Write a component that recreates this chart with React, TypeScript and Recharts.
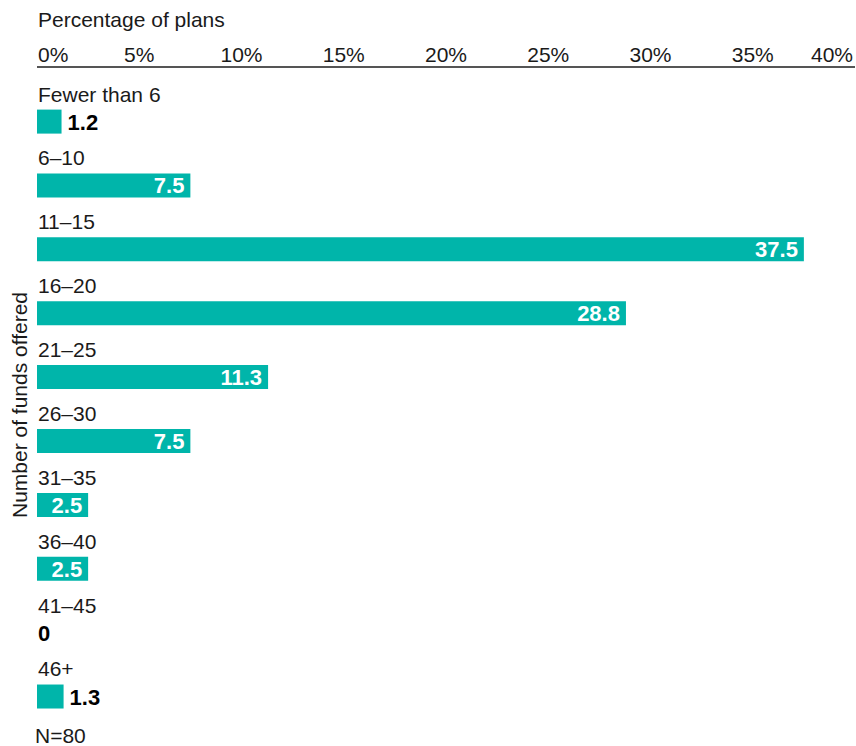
import React from "react";
import { Bar, BarChart, LabelList, XAxis, YAxis } from "recharts";

const categories = [
  "Fewer than 6",
  "6–10",
  "11–15",
  "16–20",
  "21–25",
  "26–30",
  "31–35",
  "36–40",
  "41–45",
  "46+",
];
const percentages = [1.2, 7.5, 37.5, 28.8, 11.3, 7.5, 2.5, 2.5, 0, 1.3];
const xTicks = [0, 5, 10, 15, 20, 25, 30, 35, 40];

const data = categories.map((name, i) => ({ name, value: percentages[i] }));

const FONT = '"Liberation Sans", Arial, sans-serif';
const TEAL = "#00b5aa";
const INK = "#1a1a1a";

const TopTick = (props: any) => {
  const { x, payload, index } = props;
  const anchor = index === 0 ? "start" : index === xTicks.length - 1 ? "end" : "middle";
  const dx = index === 0 ? 1 : index === xTicks.length - 1 ? -2 : 0;
  return (
    <text x={x + dx} y={62} textAnchor={anchor} fontSize={21} fontFamily={FONT} fill={INK}>
      {payload.value}%
    </text>
  );
};

// category name above each bar; zero-value rows get their "0" here too
const CategoryTick = (props: any) => {
  const { y, payload, index } = props;
  const v = percentages[index];
  return (
    <g>
      <text x={38} y={y - 20} fontSize={21} fontFamily={FONT} fill={INK}>
        {payload.value}
      </text>
      {v === 0 && (
        <text x={38} y={y + 8} fontSize={22} fontWeight="bold" fontFamily={FONT} fill="#000">
          0
        </text>
      )}
    </g>
  );
};

const ValueLabel = (props: any) => {
  const { x, y, width, height, value } = props;
  const v = Number(value);
  if (v === 0) return null;
  const inside = v >= 2;
  const lx = inside ? x + width - 6 : x + width + 6;
  return (
    <text
      x={lx}
      y={y + height / 2 + 8}
      textAnchor={inside ? "end" : "start"}
      fontSize={22}
      fontWeight="bold"
      fontFamily={FONT}
      fill={inside ? "#ffffff" : "#000000"}
    >
      {v.toFixed(1)}
    </text>
  );
};

const textStyle: React.CSSProperties = {
  position: "absolute",
  fontFamily: FONT,
  fontSize: 21,
  lineHeight: "21px",
  color: INK,
  whiteSpace: "nowrap",
};

export default function App() {
  return (
    <div style={{ position: "absolute", left: 0, top: 0, width: 856, height: 746, background: "#fff" }}>
      <div style={{ ...textStyle, left: 38, top: 9 }}>Percentage of plans</div>
      <div
        style={{
          ...textStyle,
          left: 19,
          top: 405,
          transform: "translate(-50%, -50%) rotate(-90deg)",
        }}
      >
        Number of funds offered
      </div>
      <div style={{ ...textStyle, left: 35, top: 725 }}>N=80</div>
      <BarChart
        width={856}
        height={746}
        data={data}
        layout="vertical"
        margin={{ top: 0, right: 1, bottom: 0, left: 27 }}
      >
        <XAxis
          type="number"
          orientation="top"
          domain={[0, 40]}
          ticks={xTicks}
          interval={0}
          height={67}
          tick={<TopTick />}
          tickLine={false}
          axisLine={{ stroke: "#555", strokeWidth: 2 }}
        />
        <YAxis
          type="category"
          dataKey="name"
          width={10}
          interval={0}
          axisLine={false}
          tickLine={false}
          tick={<CategoryTick />}
          padding={{ top: 22.6, bottom: 17.6 }}
        />
        <Bar dataKey="value" fill={TEAL} barSize={24} isAnimationActive={false}>
          <LabelList dataKey="value" content={<ValueLabel />} />
        </Bar>
      </BarChart>
    </div>
  );
}
